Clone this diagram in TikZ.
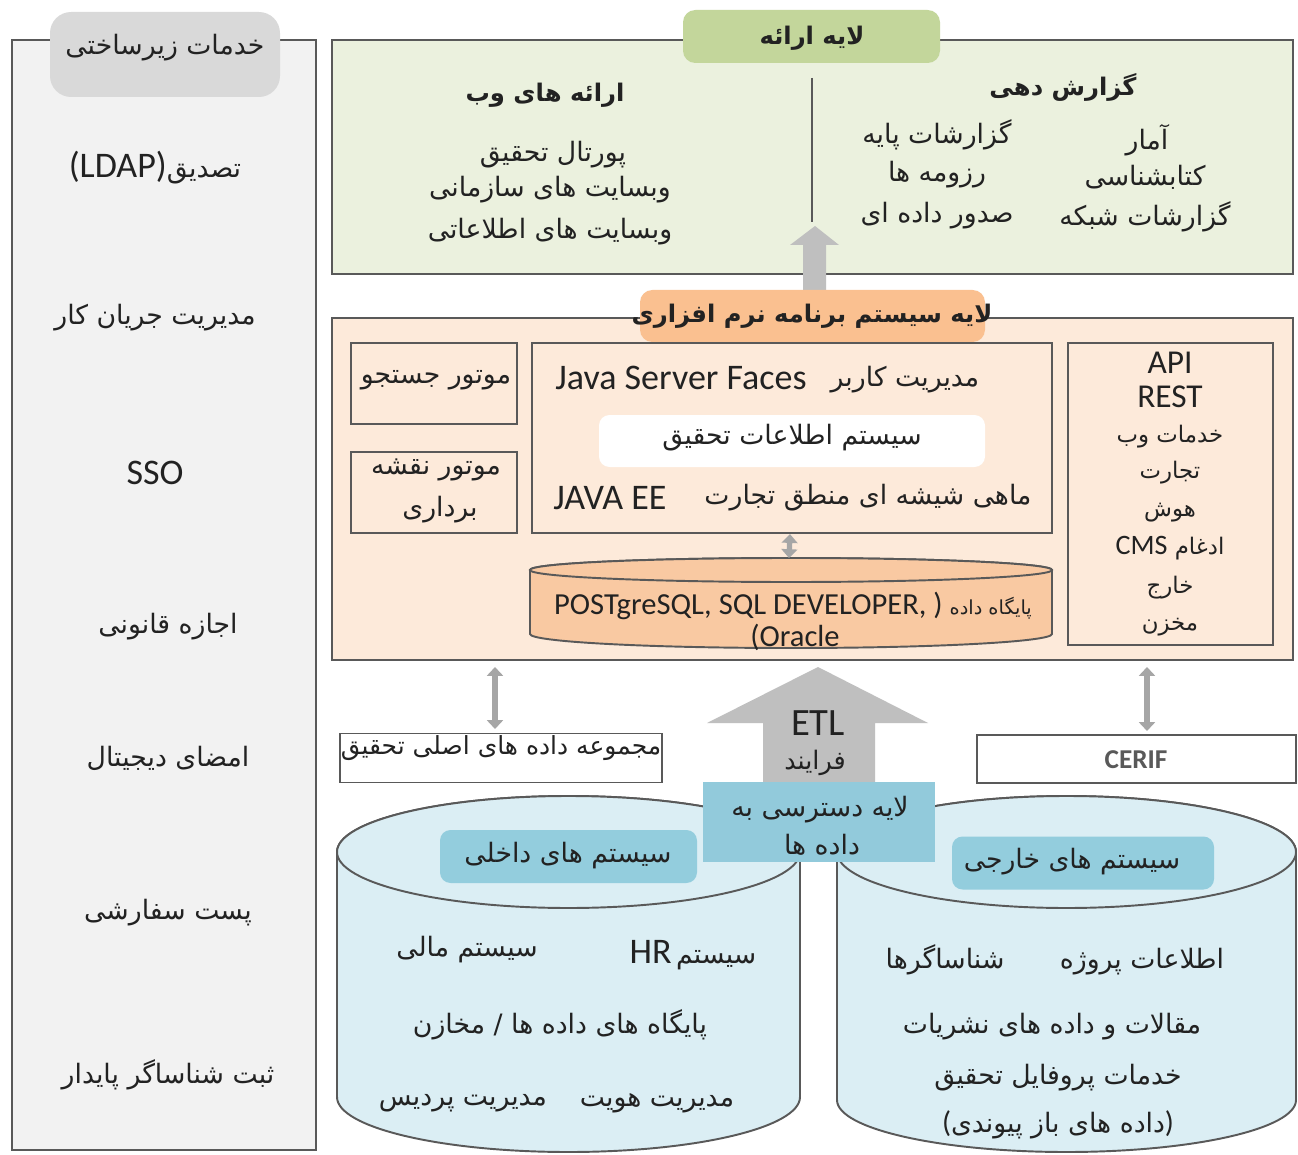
\documentclass[tikz,border=0pt]{standalone}
\usepackage{fontspec}
\setmainfont{Carlito}
\newfontfamily\arfont[Script=Arabic]{DejaVu Sans}
\TeXXeTstate=1
\newcommand{\ar}[1]{{\arfont\beginR #1\endR}}
\newcommand{\fsz}[1]{\fontsize{#1}{#1}\selectfont}
\usetikzlibrary{arrows.meta}
\definecolor{edge}{HTML}{595959}
\definecolor{leftfill}{HTML}{F2F2F2}
\definecolor{leftttl}{HTML}{D9D9D9}
\definecolor{greenfill}{HTML}{EBF1DE}
\definecolor{greenttl}{HTML}{C3D69B}
\definecolor{peach}{HTML}{FDEADA}
\definecolor{orangettl}{HTML}{FAC090}
\definecolor{dbfill}{HTML}{F9C9A2}
\definecolor{cylblue}{HTML}{DBEEF4}
\definecolor{lblblue}{HTML}{93CDDD}
\definecolor{dalblue}{HTML}{92CADB}
\definecolor{arrowgray}{HTML}{BFBFBF}
\definecolor{dblgray}{HTML}{A6A6A6}
\definecolor{txt}{HTML}{222222}
\tikzset{
  frame/.style={draw=edge, line width=1.3pt},
  ibox/.style={draw=edge, line width=1.3pt, fill=peach, inner sep=0pt},
  ttlbox/.style={rounded corners=7pt, draw=none, inner sep=0pt},
  t/.style={inner sep=0pt, text=txt, font=\arfont\fsz{15.2}},
  ts/.style={inner sep=0pt, text=txt, font=\arfont\fsz{13}},
  tb/.style={inner sep=0pt, text=txt, font=\arfont\bfseries\fsz{13.8}},
  lat/.style={inner sep=0pt, text=txt, font=\fsz{20.5}},
  fat/.style={fill=arrowgray, draw=none},
  cyl/.style={draw=edge, line width=1.1pt},
  dbl/.style={draw=dblgray, line width=3pt, {Triangle[width=9pt,length=5pt]}-{Triangle[width=9pt,length=5pt]}},
}
\begin{document}
\begin{tikzpicture}[x=0.02cm, y=-0.02cm]
\useasboundingbox (0,0) rectangle (1298,1155);
\fill[white] (0,0) rectangle (1298,1155);

% ---------------- left panel
\draw[frame, fill=leftfill] (12,40) rectangle (316,1150);
\node[ttlbox, fill=leftttl, rounded corners=12pt, minimum width=230*0.02cm, minimum height=85*0.02cm] (infttl) at (165,54.5) {};
\node[t] (inftxt) at (165,48) {\ar{خدمات زیرساختی}};
\node[t] (l1) at (155,168) {{\rmfamily\fsz{20.5}(LDAP)}\ar{تصدیق}};
\node[t] (l2) at (155,318) {\ar{مدیریت جریان کار}};
\node[lat] (l3) at (155,473) {SSO};
\node[t] (l4) at (168,627) {\ar{اجازه قانونی}};
\node[t] (l5) at (168,758) {\ar{امضای دیجیتال}};
\node[t] (l6) at (168,913) {\ar{پست سفارشی}};
\node[t] (l7) at (168,1075) {\ar{ثبت شناساگر پایدار}};

% ---------------- presentation layer
\draw[frame, fill=greenfill] (332,40) rectangle (1293,274);
\coordinate (divtop) at (812,78);
\coordinate (divbot) at (812,222);
\draw[edge, line width=1.3pt] (divtop) -- (divbot);
\fill[fat] (803,298) -- (803,245) -- (790,245) -- (815,226) -- (839,245) -- (826,245) -- (826,298) -- cycle;
\node[ttlbox, fill=greenttl, minimum width=257*0.02cm, minimum height=53*0.02cm] (presttl) at (811.5,36.5) {};
\node[tb] (prestxt) at (812,38) {\ar{لایه ارائه}};
\node[tb] (webh) at (545,95) {\ar{ارائه های وب}};
\node[t] (w1) at (553,155) {\ar{پورتال تحقیق}};
\node[t] (w2) at (550,190) {\ar{وبسایت های سازمانی}};
\node[t] (w3) at (550,232) {\ar{وبسایت های اطلاعاتی}};
\node[tb] (reph) at (1063,87) {\ar{گزارش دهی}};
\node[t] (r1) at (937,135) {\ar{گزارشات پایه}};
\node[t] (r2) at (937,175) {\ar{رزومه ها}};
\node[t] (r3) at (937,216) {\ar{صدور داده ای}};
\node[t] (r4) at (1147,140) {\ar{آمار}};
\node[t] (r5) at (1145,177) {\ar{کتابشناسی}};
\node[t] (r6) at (1145,217) {\ar{گزارشات شبکه}};

% ---------------- software layer
\draw[frame, fill=peach] (332,318) rectangle (1293,660);
\node[ttlbox, fill=orangettl, minimum width=345*0.02cm, minimum height=52*0.02cm] (softttl) at (812.5,316) {};
\node[tb] (softtxt) at (812,316) {\ar{لایه سیستم برنامه نرم افزاری}};

\node[ibox, minimum width=166*0.02cm, minimum height=81*0.02cm] (search) at (434,383.5) {};
\node[t] (searcht) at (436,380) {\ar{موتور جستجو}};
\node[ibox, minimum width=166*0.02cm, minimum height=81*0.02cm] (mapeng) at (434,492.5) {};
\node[t] (map1) at (436,470) {\ar{موتور نقشه}};
\node[t] (map2) at (440,510) {\ar{برداری}};

\node[ibox, minimum width=520*0.02cm, minimum height=190*0.02cm] (cris) at (792,438) {};
\node[lat] (jsf) at (681,378) {Java Server Faces};
\node[t] (user) at (905,380) {\ar{مدیریت کاربر}};
\node[fill=white, rounded corners=6pt, minimum width=386*0.02cm, minimum height=52*0.02cm] (crisw) at (792,441) {};
\node[t] (crist) at (792,438) {\ar{سیستم اطلاعات تحقیق}};
\node[lat] (jee) at (610,498) {JAVA EE};
\node[t] (glass) at (868,498) {\ar{ماهی شیشه ای منطق تجارت}};

\node[ibox, minimum width=205*0.02cm, minimum height=302*0.02cm] (api) at (1170.5,494) {};
\node[lat, font=\fsz{19}] (a1) at (1170,363) {API};
\node[lat, font=\fsz{19}] (a2) at (1170,397) {REST};
\node[ts] (a3) at (1170,437) {\ar{خدمات وب}};
\node[ts] (a4) at (1170,473) {\ar{تجارت}};
\node[ts] (a5) at (1170,513) {\ar{هوش}};
\node[ts] (a6) at (1170,548) {{\rmfamily\fsz{16}CMS} \ar{ادغام}};
\node[ts] (a7) at (1170,588) {\ar{خارج}};
\node[ts] (a8) at (1170,627) {\ar{مخزن}};

% database cylinder
\path[cyl, fill=dbfill] (530,570) -- (530,634) arc[start angle=180, end angle=0, x radius=261, y radius=14] -- (1052,570) arc[start angle=0, end angle=-180, x radius=261, y radius=12] -- cycle;
\draw[cyl, fill=dbfill] (791,570) ellipse [x radius=261, y radius=12];
\coordinate (dbtop) at (791,558);
\node[lat, font=\fsz{17.4}] (db1) at (793,606) {POSTgreSQL, SQL DEVELOPER, ) {\arfont\fsz{11}\beginR پایگاه داده\endR}};
\node[lat, font=\fsz{17.4}] (db2) at (795,637) {(Oracle};
\draw[dbl] ([xshift=-2*0.02cm]cris.south) -- ([xshift=-2*0.02cm]dbtop);

% ---------------- bottom part
\coordinate (softbotL) at (495,667);
\coordinate (softbotR) at (1147,667);
\node[draw=edge, line width=1.1pt, fill=white, minimum width=322*0.02cm, minimum height=49*0.02cm] (mainset) at (501,758) {};
\node[t, font=\arfont\fsz{14.2}] (mainsett) at (501,748) {\ar{مجموعه داده های اصلی تحقیق}};
\coordinate (msTop) at (495,729);
\draw[dbl] (softbotL) -- (msTop);
\node[draw=edge, line width=1.1pt, fill=white, minimum width=319*0.02cm, minimum height=48*0.02cm] (cerif) at (1136.5,759) {};
\node[inner sep=0pt, text=edge, font=\bfseries\fsz{15.5}] (ceriftxt) at (1136,760) {CERIF};
\coordinate (cfTop) at (1147,731);
\draw[dbl] (softbotR) -- (cfTop);

% internal cylinder
\path[cyl, fill=cylblue] (337,852) -- (337,1097) arc[start angle=180, end angle=0, x radius=231.5, y radius=55] -- (800,852) arc[start angle=0, end angle=-180, x radius=231.5, y radius=56] -- cycle;
\draw[cyl, fill=cylblue] (568.5,852) ellipse [x radius=231.5, y radius=56];
% external cylinder
\path[cyl, fill=cylblue] (837,852) -- (837,1100) arc[start angle=180, end angle=0, x radius=229.5, y radius=52] -- (1296,852) arc[start angle=0, end angle=-180, x radius=229.5, y radius=56] -- cycle;
\draw[cyl, fill=cylblue] (1066.5,852) ellipse [x radius=229.5, y radius=56];

% ETL arrow
\fill[fat] (763,790) -- (763,723) -- (707,723) -- (818,667) -- (928,723) -- (875,723) -- (875,790) -- cycle;
\node[inner sep=0pt, text=txt, font=\fsz{22}] (etl) at (818,723) {ETL};
\node[t, font=\arfont\fsz{14.5}] (etlf) at (815,763) {\ar{فرایند}};

% data access layer
\node[fill=dalblue, minimum width=232*0.02cm, minimum height=80*0.02cm] (dal) at (819,822) {};
\node[t] (dal1) at (820,810) {\ar{لایه دسترسی به}};
\node[t] (dal2) at (822,845) {\ar{داده ها}};

\node[fill=lblblue, rounded corners=6pt, minimum width=257*0.02cm, minimum height=53*0.02cm] (intl) at (568.5,856.5) {};
\node[t] (intlt) at (568,856) {\ar{سیستم های داخلی}};
\node[fill=lblblue, rounded corners=6pt, minimum width=262*0.02cm, minimum height=53*0.02cm] (extl) at (1083,863) {};
\node[t] (extlt) at (1072,862) {\ar{سیستم های خارجی}};

\node[t] (i1) at (467,950) {\ar{سیستم مالی}};
\node[t] (i2) at (693,955) {{\rmfamily\fsz{20.5}HR}\,\ar{سیستم}};
\node[t] (i3) at (560,1025) {\ar{پایگاه های داده ها / مخازن}};
\node[t] (i4) at (657,1103) {\ar{مدیریت هویت}};
\node[t] (i5) at (463,1103) {\ar{مدیریت پردیس}};

\node[t] (e1) at (1142,962) {\ar{اطلاعات پروژه}};
\node[t] (e2) at (945,960) {\ar{شناساگرها}};
\node[t] (e3) at (1052,1027) {\ar{مقالات و داده های نشریات}};
\node[t] (e4) at (1058,1078) {\ar{خدمات پروفایل تحقیق}};
\node[t] (e5) at (1058,1125) {{\rmfamily\fsz{17}(}\ar{داده های باز پیوندی}{\rmfamily\fsz{17})}};
\end{tikzpicture}
\end{document}
